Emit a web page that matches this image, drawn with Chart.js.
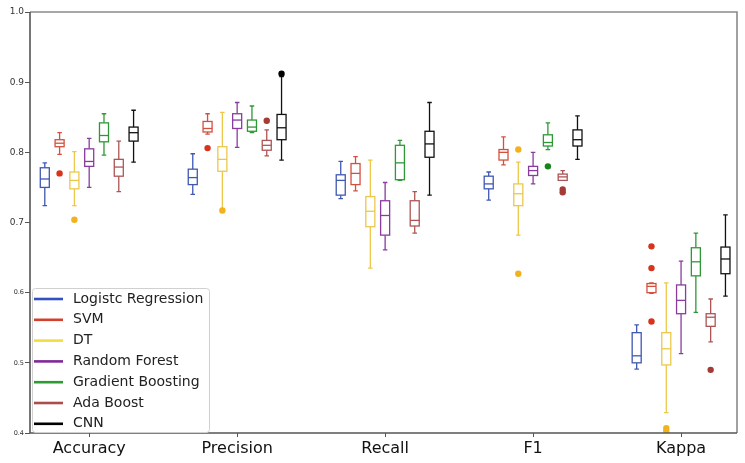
<!DOCTYPE html>
<html>
<head>
<meta charset="utf-8">
<script src="https://cdn.jsdelivr.net/npm/chart.js@4.4.1/dist/chart.umd.min.js"></script>
<style>
  html, body { margin: 0; padding: 0; background: #fff; }
  #wrap { width: 745px; height: 463px; }
</style>
</head>
<body>
<div id="wrap"><canvas id="boxChart" width="745" height="463"></canvas></div>
<script>
// metrics on the x axis and models in each group
const categories = ['Accuracy', 'Precision', 'Recall', 'F1', 'Kappa'];
const models = ['Logistc Regression', 'SVM', 'DT', 'Random Forest', 'Gradient Boosting', 'Ada Boost', 'CNN'];
const yTicks = [0.4, 0.5, 0.6, 0.7, 0.8, 0.9, 1.0];

// box summaries per metric: [low whisker, q1, median, q3, high whisker]
const lrBoxes = [[0.724, 0.750, 0.762, 0.778, 0.785], [0.740, 0.754, 0.764, 0.776, 0.798], [0.734, 0.739, 0.760, 0.768, 0.787], [0.732, 0.748, 0.755, 0.766, 0.772], [0.491, 0.500, 0.510, 0.543, 0.554]];
const svmBoxes = [[0.797, 0.808, 0.813, 0.818, 0.828], [0.826, 0.829, 0.834, 0.844, 0.855], [0.745, 0.754, 0.770, 0.784, 0.794], [0.782, 0.789, 0.800, 0.804, 0.822], [0.599, 0.600, 0.609, 0.613, 0.614]];
const dtBoxes = [[0.724, 0.748, 0.760, 0.772, 0.801], [0.719, 0.773, 0.790, 0.808, 0.857], [0.635, 0.694, 0.716, 0.737, 0.789], [0.682, 0.724, 0.741, 0.755, 0.786], [0.429, 0.497, 0.520, 0.543, 0.614]];
const rfBoxes = [[0.750, 0.780, 0.787, 0.805, 0.820], [0.807, 0.834, 0.846, 0.855, 0.871], [0.661, 0.682, 0.710, 0.731, 0.757], [0.755, 0.767, 0.774, 0.780, 0.800], [0.513, 0.570, 0.589, 0.611, 0.645]];
const gbBoxes = [[0.796, 0.815, 0.824, 0.842, 0.855], [0.828, 0.830, 0.836, 0.846, 0.866], [0.760, 0.761, 0.785, 0.810, 0.817], [0.804, 0.809, 0.814, 0.825, 0.842], [0.572, 0.624, 0.644, 0.664, 0.685]];
const adaBoxes = [[0.744, 0.766, 0.779, 0.790, 0.816], [0.795, 0.803, 0.810, 0.817, 0.832], [0.685, 0.695, 0.703, 0.731, 0.744], [0.760, 0.760, 0.765, 0.769, 0.774], [0.530, 0.552, 0.565, 0.570, 0.591]];
const cnnBoxes = [[0.786, 0.816, 0.828, 0.836, 0.860], [0.789, 0.818, 0.835, 0.854, 0.908], [0.739, 0.793, 0.812, 0.830, 0.871], [0.790, 0.809, 0.818, 0.832, 0.852], [0.595, 0.627, 0.648, 0.665, 0.711]];

// outliers: [metric index, value]
const lrOutliers = [];
const svmOutliers = [[0, 0.770], [1, 0.806], [4, 0.666], [4, 0.635], [4, 0.559]];
const dtOutliers = [[0, 0.704], [1, 0.717], [3, 0.804], [3, 0.627], [4, 0.407], [4, 0.403]];
const rfOutliers = [];
const gbOutliers = [[3, 0.780]];
const adaOutliers = [[1, 0.845], [3, 0.747], [3, 0.743], [4, 0.490]];
const cnnOutliers = [[1, 0.912]];

const allBoxes = [lrBoxes, svmBoxes, dtBoxes, rfBoxes, gbBoxes, adaBoxes, cnnBoxes];
const allOutliers = [lrOutliers, svmOutliers, dtOutliers, rfOutliers, gbOutliers, adaOutliers, cnnOutliers];

const lineColors = ['#3350c0', '#d2402e', '#f4dc40', '#7e2a98', '#2e9a32', '#ac4c4c', '#000000'];
const boxColors = ['#3f58b2', '#d4503e', '#ecc84a', '#8a3c9e', '#2f9836', '#ad5555', '#111111'];
const dotColors = ['#3350c0', '#d8341c', '#f2b21e', '#7e2a98', '#15861a', '#a53a36', '#000000'];

const groupStep = 0.1;   // spacing between boxes inside a group (x units)
const boxWidth = 0.061;  // box width (x units)

function xPos(metric, model) {
    return metric + 1 + (model - 3) * groupStep;
}

const datasets = models.map((name, i) => ({
    label: name,
    data: allOutliers[i].map(o => ({ x: xPos(o[0], i), y: o[1] })),
    boxes: allBoxes[i],
    modelIndex: i,
    pointRadius: 3.2,
    pointBackgroundColor: dotColors[i],
    pointBorderWidth: 0,
    showLine: false
}));

// draws whiskers, boxes and medians with the chart scales
const boxPlugin = {
    id: 'boxPlugin',
    beforeDatasetsDraw(chart) {
        const ctx = chart.ctx;
        const xs = chart.scales.x;
        const ys = chart.scales.y;
        chart.data.datasets.forEach((ds) => {
            const i = ds.modelIndex;
            ctx.save();
            ctx.strokeStyle = boxColors[i];
            ctx.lineWidth = 1.3;
            ds.boxes.forEach((b, m) => {
                const cx = xs.getPixelForValue(xPos(m, i));
                const half = xs.getPixelForValue(xPos(m, i) + boxWidth / 2) - cx;
                const [lo, q1, med, q3, hi] = b.map(v => ys.getPixelForValue(v));
                ctx.beginPath();
                // whiskers
                ctx.moveTo(cx, q1); ctx.lineTo(cx, lo);
                ctx.moveTo(cx, q3); ctx.lineTo(cx, hi);
                // caps
                ctx.moveTo(cx - half / 2, lo); ctx.lineTo(cx + half / 2, lo);
                ctx.moveTo(cx - half / 2, hi); ctx.lineTo(cx + half / 2, hi);
                // median
                ctx.moveTo(cx - half, med); ctx.lineTo(cx + half, med);
                ctx.stroke();
                ctx.fillStyle = '#fff';
                ctx.fillRect(cx - half, q3, half * 2, q1 - q3);
                ctx.strokeRect(cx - half, q3, half * 2, q1 - q3);
                ctx.beginPath();
                ctx.moveTo(cx - half, med); ctx.lineTo(cx + half, med);
                ctx.stroke();
            });
            ctx.restore();
        });
    },
    afterDraw(chart) {
        const ctx = chart.ctx;
        const a = chart.chartArea;
        ctx.save();
        // frame
        ctx.strokeStyle = '#8a8a8a';
        ctx.lineWidth = 1.6;
        ctx.beginPath();
        ctx.moveTo(a.left, a.top); ctx.lineTo(a.right, a.top); ctx.lineTo(a.right, a.bottom);
        ctx.stroke();
        ctx.strokeStyle = '#555';
        ctx.beginPath();
        ctx.moveTo(a.left, a.top); ctx.lineTo(a.left, a.bottom); ctx.lineTo(a.right, a.bottom);
        ctx.stroke();

        // legend box in the lower left corner
        const lx = a.left + 2, ly = 288, lw = 177, lh = a.bottom - 1 - ly;
        ctx.fillStyle = 'rgba(255,255,255,0.9)';
        ctx.strokeStyle = '#d0d0d0';
        ctx.lineWidth = 1;
        ctx.beginPath();
        ctx.roundRect(lx + 0.5, ly + 0.5, lw, lh, 3);
        ctx.fill();
        ctx.stroke();
        ctx.font = '14px "DejaVu Sans"';
        ctx.textBaseline = 'middle';
        models.forEach((name, i) => {
            const y = 299 + i * 20.8;
            ctx.strokeStyle = lineColors[i];
            ctx.lineWidth = 2.6;
            ctx.beginPath();
            ctx.moveTo(a.left + 4, y); ctx.lineTo(a.left + 33, y);
            ctx.stroke();
            ctx.fillStyle = '#222';
            ctx.fillText(name, a.left + 43, y);
        });
        ctx.restore();
    }
};

new Chart(document.getElementById('boxChart').getContext('2d'), {
    type: 'scatter',
    data: { datasets: datasets },
    options: {
        responsive: false,
        animation: false,
        layout: { padding: { top: 12, right: 8, left: 0, bottom: 0 } },
        plugins: {
            legend: { display: false },
            tooltip: { enabled: false }
        },
        scales: {
            x: {
                type: 'linear',
                min: 0.6,
                max: 5.378,
                afterBuildTicks: (scale) => {
                    scale.ticks = categories.map((c, k) => ({ value: k + 1 }));
                },
                afterFit: (scale) => { scale.height = 30; },
                border: { display: false },
                grid: { drawOnChartArea: false, tickLength: 4, color: '#555' },
                ticks: {
                    padding: 2,
                    color: '#111',
                    font: { family: 'DejaVu Sans', size: 16 },
                    callback: (v) => categories[v - 1]
                }
            },
            y: {
                min: 0.4,
                max: 1.0,
                afterBuildTicks: (scale) => {
                    scale.ticks = yTicks.map(v => ({ value: v }));
                },
                afterFit: (scale) => { scale.width = 30; },
                border: { display: false },
                grid: { drawOnChartArea: false, tickLength: 5, color: '#555' },
                ticks: {
                    padding: 1,
                    color: '#333',
                    font: (c) => ({ family: 'DejaVu Sans', size: c.tick && c.tick.value < 0.65 ? 6.5 : 9 }),
                    callback: (v) => v.toFixed(1)
                }
            }
        }
    },
    plugins: [boxPlugin]
});
</script>
</body>
</html>
